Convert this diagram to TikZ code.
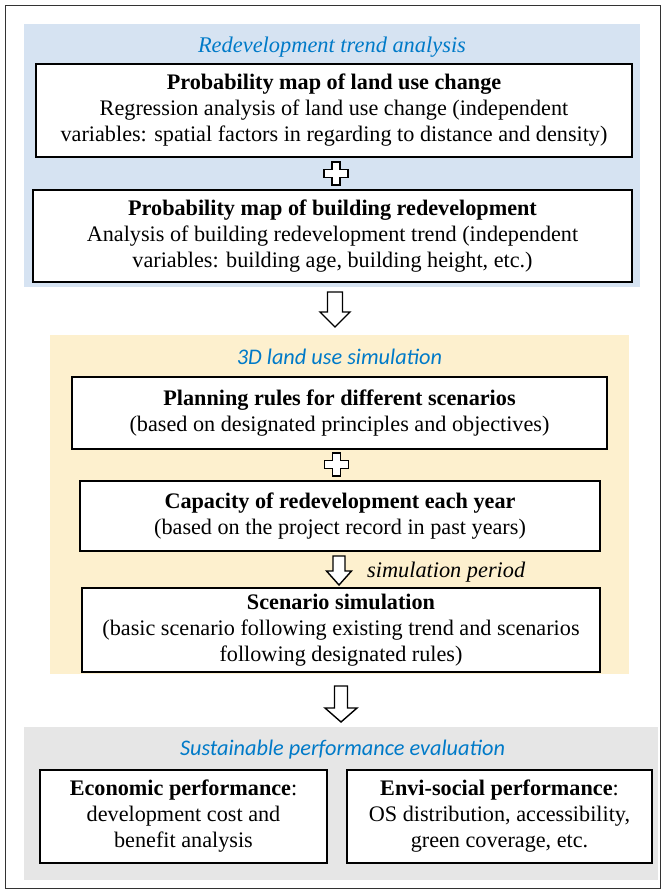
\documentclass[tikz,border=0pt]{standalone}
\usepackage{fontspec}
\setmainfont{Liberation Serif}
\newfontfamily\calib{Carlito}
\usetikzlibrary{positioning}
\definecolor{panelblue}{RGB}{214,227,242}
\definecolor{panelorange}{RGB}{253,240,206}
\definecolor{panelgray}{RGB}{230,230,230}
\definecolor{titleblue}{RGB}{0,122,200}
\tikzset{
  x=1pt, y=-1pt,
  stepbox/.style={draw=black, line width=1.6pt, fill=white, inner sep=0pt, align=center,
    font=\fontsize{22.2}{26}\selectfont},
  ptitle/.style={text=titleblue, inner sep=0pt, font=\fontsize{22.4}{26}\selectfont\itshape},
  ctitle/.style={text=titleblue, inner sep=0pt, font=\calib\fontsize{22.3}{26}\selectfont\itshape},
  hollowarrow/.style={draw=black, line width=1.4pt, fill=white, line join=miter},
  plussign/.style={draw=black, line width=1.3pt, fill=white},
  note/.style={inner sep=0pt, font=\fontsize{22.3}{26}\selectfont\itshape}
}
\begin{document}
\begin{tikzpicture}
\useasboundingbox (0,0) rectangle (665,893);
\fill[white] (0,0) rectangle (665,893);
\draw[line width=0.9pt, black!80] (5,5) rectangle (660,888);

% panels
\fill[panelblue] (24,24) rectangle (640,287);
\fill[panelorange] (50,335) rectangle (629,674);
\fill[panelgray] (24,727) rectangle (658,880);

% titles
\node[ptitle] (t1) at (332,47) {Redevelopment trend analysis};
\node[ctitle] (t2) at (339.5,357) {3D land use simulation};
\node[ctitle] (t3) at (342.5,750) {Sustainable performance evaluation};

% boxes
\node[stepbox, minimum width=596, minimum height=93] (b1) at (334,110.5)
  {\textbf{Probability map of land use change}\\
   Regression analysis of land use change (independent\\
   variables: spatial factors in regarding to distance and density)};
\node[stepbox, minimum width=599, minimum height=92] (b2) at (332.5,236)
  {\textbf{Probability map of building redevelopment}\\
   Analysis of building redevelopment trend (independent\\
   variables: building age, building height, etc.)};
\node[stepbox, minimum width=535, minimum height=72] (b3) at (339.5,413)
  {\textbf{Planning rules for different scenarios}\\
   (based on designated principles and objectives)};
\node[stepbox, minimum width=520, minimum height=70] (b4) at (340,516)
  {\textbf{Capacity of redevelopment each year}\\
   (based on the project record in past years)};
\node[stepbox, minimum width=518, minimum height=84] (b5) at (341,630)
  {\textbf{Scenario simulation}\\
   (basic scenario following existing trend and scenarios\\
   following designated rules)};
\node[stepbox, minimum width=287, minimum height=93] (b6) at (183.5,816.5)
  {\textbf{Economic performance}:\\
   development cost and\\
   benefit analysis};
\node[stepbox, minimum width=305, minimum height=93] (b7) at (499.5,816.5)
  {\textbf{Envi-social performance}:\\
   OS distribution, accessibility,\\
   green coverage, etc.};

% plus signs
\coordinate (p1) at (336,173.5);
\coordinate (p2) at (336.5,464.5);
\foreach \p in {p1,p2}{
  \draw[plussign] ([shift={(-4,-11.5)}]\p) -- ([shift={(4,-11.5)}]\p) -- ([shift={(4,-4)}]\p)
    -- ([shift={(12,-4)}]\p) -- ([shift={(12,4)}]\p) -- ([shift={(4,4)}]\p)
    -- ([shift={(4,11.5)}]\p) -- ([shift={(-4,11.5)}]\p) -- ([shift={(-4,4)}]\p)
    -- ([shift={(-12,4)}]\p) -- ([shift={(-12,-4)}]\p) -- ([shift={(-4,-4)}]\p) -- cycle;
}

% hollow arrows (top coordinate, tip coordinate)
\coordinate (a1) at (335,292);
\draw[hollowarrow] ([shift={(-7.5,0)}]a1) -- ([shift={(7.5,0)}]a1) -- ([shift={(7.5,20)}]a1)
  -- ([shift={(15,20)}]a1) -- ([shift={(0,35)}]a1) -- ([shift={(-15,20)}]a1)
  -- ([shift={(-7.5,20)}]a1) -- cycle;
\coordinate (a2) at (339,556);
\draw[hollowarrow] ([shift={(-6,0)}]a2) -- ([shift={(6,0)}]a2) -- ([shift={(6,15)}]a2)
  -- ([shift={(12.5,15)}]a2) -- ([shift={(0,29)}]a2) -- ([shift={(-12.5,15)}]a2)
  -- ([shift={(-6,15)}]a2) -- cycle;
\coordinate (a3) at (341,686);
\draw[hollowarrow] ([shift={(-6.5,0)}]a3) -- ([shift={(6.5,0)}]a3) -- ([shift={(6.5,22)}]a3)
  -- ([shift={(16,22)}]a3) -- ([shift={(0,36)}]a3) -- ([shift={(-16,22)}]a3)
  -- ([shift={(-6.5,22)}]a3) -- cycle;

\node[note, anchor=west] (sp) at (367,572) {simulation period};
\end{tikzpicture}
\end{document}
